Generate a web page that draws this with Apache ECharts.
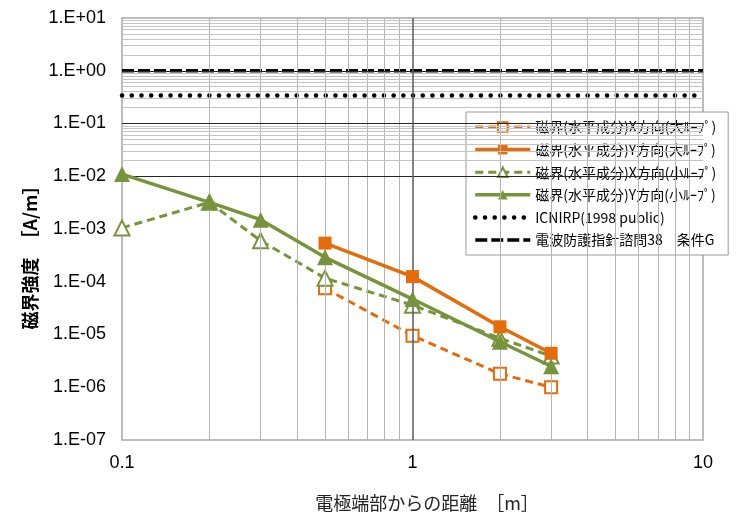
<!DOCTYPE html>
<html>
<head>
<meta charset="utf-8">
<script src="https://cdn.jsdelivr.net/npm/echarts@6/dist/echarts.min.js"></script>
<style>
html, body { margin: 0; padding: 0; background: #fff; }
#main { width: 753px; height: 518px; }
</style>
</head>
<body>
<div id="main"></div>
<script>
// 測定データ（距離 m と 磁界強度 A/m）
var distLarge = [0.5, 1, 2, 3];
var xLarge = [7.5e-5, 9.5e-6, 1.8e-6, 1.0e-6];
var yLarge = [5.4e-4, 1.25e-4, 1.4e-5, 4.4e-6];
var distSmall = [0.1, 0.2, 0.3, 0.5, 1, 2, 3];
var xSmall = [1.05e-3, 3.2e-3, 6.0e-4, 1.17e-4, 3.6e-5, 8.5e-6, 3.9e-6];
var ySmall = [1.1e-2, 3.2e-3, 1.5e-3, 2.9e-4, 4.7e-5, 7.3e-6, 2.5e-6];
// 基準値
var limitX = [0.1, 10];
var icnirp = 0.34;
var guideG = 1.0;
// 目盛
var xTicks = [0.1, 1, 10];
var yTicks = [1e-7, 1e-6, 1e-5, 1e-4, 1e-3, 1e-2, 1e-1, 1e0, 1e1];
var minorSteps = [2, 3, 4, 5, 6, 7, 8, 9];

var names = [
    '磁界(水平成分)X方向(大ﾙｰﾌﾟ)',
    '磁界(水平成分)Y方向(大ﾙｰﾌﾟ)',
    '磁界(水平成分)X方向(小ﾙｰﾌﾟ)',
    '磁界(水平成分)Y方向(小ﾙｰﾌﾟ)',
    'ICNIRP(1998 public)',
    '電波防護指針諮問38　条件G'
];

var ORANGE = '#E46C0A';
var GREEN = '#77933C';

function pairs(xs, ys) {
    return xs.map(function (x, i) { return [x, ys[i]]; });
}

// 線種
var dashStyle = [8, 5];
var guideStyle = { color: '#000', width: 3.5, type: [12, 4] };
var icnirpStyle = { color: '#000', width: 4.5, type: [0.1, 9.6], cap: 'round' };

// グリッド線（補助線→主線の順）
var gridLines = [];
xTicks.slice(0, -1).forEach(function (t) {
    minorSteps.forEach(function (k) {
        gridLines.push({ xAxis: t * k, lineStyle: { color: '#b4b4b4', width: 1, type: 'solid' } });
    });
});
yTicks.slice(0, -1).forEach(function (t) {
    minorSteps.forEach(function (k) {
        gridLines.push({ yAxis: t * k, lineStyle: { color: '#c4c4c4', width: 1, type: 'solid' } });
    });
});
yTicks.slice(1, -1).forEach(function (t) {
    gridLines.push({ yAxis: t, lineStyle: { color: '#262626', width: 1.2, type: 'solid' } });
});
xTicks.slice(1, -1).forEach(function (t) {
    gridLines.push({ xAxis: t, lineStyle: { color: '#5a5a5a', width: 1.5, type: 'solid' } });
});

var myChart = echarts.init(document.getElementById('main'));

var option = {
    animation: false,
    grid: {
        left: 122, right: 50, top: 18, bottom: 78,
        show: true, borderColor: '#a6a6a6', borderWidth: 1.5
    },
    xAxis: {
        type: 'log', logBase: 10, min: 0.1, max: 10, splitNumber: 2,
        axisLine: { show: false }, axisTick: { show: false },
        splitLine: { show: false },
        axisLabel: {
            margin: 14, color: '#000', fontSize: 18, fontFamily: 'Liberation Sans, Arial',
            formatter: function (v) { return String(+v.toPrecision(3)); }
        }
    },
    yAxis: {
        type: 'log', logBase: 10, min: 1e-7, max: 10, splitNumber: 8,
        axisLine: { show: false }, axisTick: { show: false },
        splitLine: { show: false },
        axisLabel: {
            margin: 16, color: '#000', fontSize: 18, fontFamily: 'Liberation Sans, Arial',
            formatter: function (v) {
                var e = Math.round(Math.log10(v));
                var a = Math.abs(e);
                return '1.E' + (e < 0 ? '-' : '+') + (a < 10 ? '0' : '') + a;
            }
        }
    },
    legend: {
        orient: 'vertical', left: 466, top: 112,
        data: [
            { name: names[0], lineStyle: { color: ORANGE, width: 3, type: dashStyle } },
            { name: names[1], lineStyle: { color: ORANGE, width: 3.5, type: 'solid' } },
            { name: names[2], lineStyle: { color: GREEN, width: 3, type: dashStyle } },
            { name: names[3], lineStyle: { color: GREEN, width: 3.5, type: 'solid' } },
            { name: names[4], itemStyle: { opacity: 0 }, lineStyle: icnirpStyle },
            { name: names[5], itemStyle: { opacity: 0 }, lineStyle: guideStyle }
        ],
        backgroundColor: '#fff', borderColor: '#9a9a9a', borderWidth: 1,
        padding: [7, 12, 7, 7],
        itemWidth: 55, itemHeight: 12, itemGap: 6.6,
        textStyle: { fontSize: 14, lineHeight: 16, color: '#000', fontFamily: 'Noto Sans CJK JP' }
    },
    graphic: [
        {
            type: 'text', x: 30, y: 253, rotation: Math.PI / 2,
            style: {
                text: '磁界強度　［A/m］', align: 'center', verticalAlign: 'middle',
                fontSize: 18, fontWeight: 'bold', fill: '#000', fontFamily: 'Noto Sans CJK JP'
            }
        },
        {
            type: 'text', x: 427, y: 503,
            style: {
                text: '電極端部からの距離　［m］', align: 'center', verticalAlign: 'middle',
                fontSize: 18, fill: '#222', fontFamily: 'Noto Sans CJK JP'
            }
        }
    ],
    series: [
        {
            name: 'grid', type: 'line', z: 1, silent: true,
            data: [[0.1, 1e-7]], symbol: 'none', lineStyle: { width: 0 },
            markLine: {
                silent: true, symbol: 'none', animation: false,
                label: { show: false }, emphasis: { disabled: true },
                data: gridLines
            }
        },
        {
            name: names[5], type: 'line', z: 3,
            data: pairs(limitX, [guideG, guideG]), symbol: 'none',
            lineStyle: guideStyle
        },
        {
            name: names[4], type: 'line', z: 3,
            data: pairs(limitX, [icnirp, icnirp]), symbol: 'none',
            lineStyle: icnirpStyle
        },
        {
            name: names[0], type: 'line', z: 4,
            data: pairs(distLarge, xLarge),
            symbol: 'rect', symbolSize: 12,
            itemStyle: { color: '#fff', borderColor: ORANGE, borderWidth: 2 },
            lineStyle: { color: ORANGE, width: 3, type: dashStyle }
        },
        {
            name: names[1], type: 'line', z: 5,
            data: pairs(distLarge, yLarge),
            symbol: 'rect', symbolSize: 13,
            itemStyle: { color: ORANGE },
            lineStyle: { color: ORANGE, width: 3.5 }
        },
        {
            name: names[2], type: 'line', z: 4,
            data: pairs(distSmall, xSmall),
            symbol: 'triangle', symbolSize: 15,
            itemStyle: { color: '#fff', borderColor: GREEN, borderWidth: 2 },
            lineStyle: { color: GREEN, width: 3, type: dashStyle }
        },
        {
            name: names[3], type: 'line', z: 5,
            data: pairs(distSmall, ySmall),
            symbol: 'triangle', symbolSize: 16,
            itemStyle: { color: GREEN },
            lineStyle: { color: GREEN, width: 3.5 }
        }
    ]
};

myChart.setOption(option);
</script>
</body>
</html>
